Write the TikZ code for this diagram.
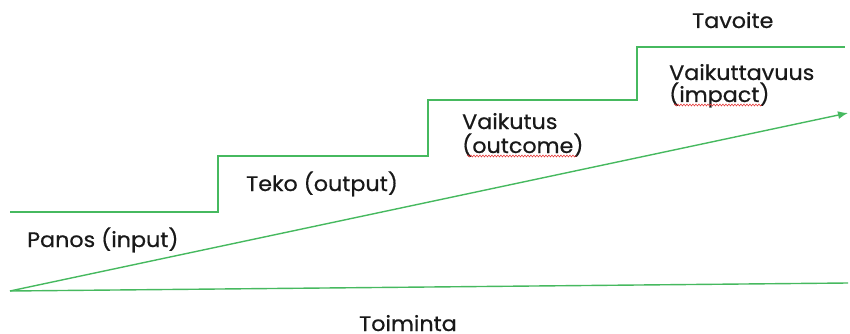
\documentclass[tikz,border=0pt]{standalone}
\usepackage{fontspec}
\setmainfont{Poppins}[FakeBold=0.6,FakeStretch=1.06]
\usetikzlibrary{arrows.meta,decorations.pathmorphing}
\definecolor{lg}{RGB}{70,185,95}
\definecolor{sp}{RGB}{230,60,60}
\tikzset{
  gline/.style={draw=lg,line width=1.4pt},
  lbl/.style={anchor=base west,inner sep=0pt,font=\fontsize{21}{24}\selectfont,text=black!90},
  spell/.style={draw=sp,line width=0.6pt,decorate,decoration={snake,amplitude=0.9pt,segment length=3pt}}
}
\begin{document}
\begin{tikzpicture}[x=1pt,y=-1pt]
\useasboundingbox (0,0) rectangle (850,334);
% staircase
\coordinate (s0) at (10,212);
\coordinate (s1) at (218,212);
\coordinate (s2) at (218,156);
\coordinate (s3) at (428,156);
\coordinate (s4) at (428,100);
\coordinate (s5) at (637,100);
\coordinate (s6) at (637,47);
\coordinate (s7) at (845,47);
\draw[gline] (s0) -- (s1) -- (s2) -- (s3) -- (s4) -- (s5) -- (s6) -- (s7);
% origin lines
\coordinate (o) at (10,291);
\coordinate (aend) at (848,113);
\coordinate (bend) at (848,283);
\draw[gline,-{Latex[length=10pt,width=8pt]}] (o) -- (aend);
\draw[gline] (o) -- (bend);
% labels
\node[lbl] (panos) at (27,247) {Panos (input)};
\node[lbl] (teko) at (246,191) {Teko (output)};
\node[lbl] (vaik) at (462,129) {Vaikutus};
\node[lbl] (outc) at (462,153) {(outcome)};
\node[lbl] (vaikt) at (669,80) {Vaikuttavuus};
\node[lbl] (imp) at (669,102) {(impact)};
\node[lbl] (tav) at (692,28) {Tavoite};
\node[lbl] (toim) at (359,331) {Toiminta};
% spell-check marks
\draw[spell] ([xshift=5pt,yshift=-3pt]outc.base west) -- ([xshift=-7pt,yshift=-3pt]outc.base east);
\draw[spell] ([xshift=5pt,yshift=-3pt]imp.base west) -- ([xshift=-8pt,yshift=-3pt]imp.base east);
\end{tikzpicture}
\end{document}
